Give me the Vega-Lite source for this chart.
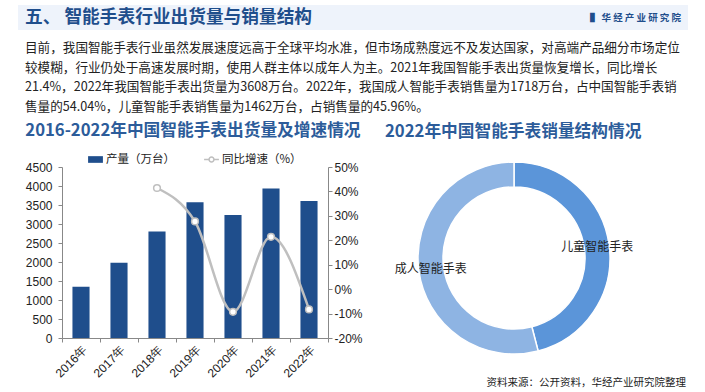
{
  "$schema": "https://vega.github.io/schema/vega-lite/v6.json",
  "background": "white",
  "padding": {"left": 18, "top": 5, "right": 17, "bottom": 4},
  "config": {"view": {"stroke": null}, "font": "Noto Sans CJK SC"},
  "title": {"text": "资料来源：公开资料，华经产业研究院整理", "orient": "bottom", "anchor": "end", "frame": "bounds", "fontSize": 10.5, "fontWeight": "normal", "color": "#222222", "offset": -1, "dx": -2, "font": "Noto Sans CJK SC"},
  "datasets": {
    "header": [{"title": "五、 智能手表行业出货量与销量结构", "logo": "▌  华  经  产  业  研  究  院"}],
    "ship": [
      {"year": "2016年", "output": 1350, "growth": null},
      {"year": "2017年", "output": 1980, "growth": null},
      {"year": "2018年", "output": 2800, "growth": 41.4},
      {"year": "2019年", "output": 3575, "growth": 27.7},
      {"year": "2020年", "output": 3240, "growth": -9.3},
      {"year": "2021年", "output": 3934, "growth": 21.4},
      {"year": "2022年", "output": 3608, "growth": -8.3}
    ],
    "sales": [
      {"category": "儿童智能手表", "share": 45.96},
      {"category": "成人智能手表", "share": 54.04}
    ]
  },
  "resolve": {"legend": {"fill": "independent", "stroke": "independent", "color": "independent"}},
  "vconcat": [
    {
      "width": 670,
      "height": 25,
      "view": {"fill": "#EEF3FB", "stroke": null},
      "data": {"name": "header"},
      "layer": [
        {
          "mark": {"type": "text", "align": "left", "baseline": "middle", "fontSize": 17.7, "fontWeight": "bold", "color": "#1F4E8C", "dx": 7},
          "encoding": {
            "text": {"field": "title"},
            "x": {"datum": 0, "type": "quantitative", "scale": {"domain": [0, 1], "nice": false, "zero": false}, "axis": null}
          }
        },
        {
          "mark": {"type": "text", "align": "right", "baseline": "middle", "fontSize": 9.5, "fontWeight": "bold", "color": "#1F4E8C", "dx": -7},
          "encoding": {
            "text": {"field": "logo"},
            "x": {"datum": 1, "type": "quantitative", "scale": {"domain": [0, 1], "nice": false, "zero": false}, "axis": null}
          }
        }
      ]
    },
    {
      "title": {
        "text": [
          "目前，我国智能手表行业虽然发展速度远高于全球平均水准，但市场成熟度远不及发达国家，对高端产品细分市场定位",
          "较模糊，行业仍处于高速发展时期，使用人群主体以成年人为主。2021年我国智能手表出货量恢复增长，同比增长",
          "21.4%，2022年我国智能手表出货量为3608万台。2022年，我国成人智能手表销售量为1718万台，占中国智能手表销",
          "售量的54.04%，儿童智能手表销售量为1462万台，占销售量的45.96%。"
        ],
        "anchor": "start", "frame": "bounds", "fontSize": 12.6, "fontWeight": "normal", "color": "#222222", "lineHeight": 19.5, "offset": 10, "dx": 7
      },
      "spacing": 6,
      "resolve": {"legend": {"fill": "independent", "stroke": "independent", "color": "independent"}},
      "hconcat": [
        {
          "width": 1,
          "height": 1,
          "data": {"values": []},
          "mark": "point"
        },
        {
          "width": 266,
          "height": 171,
          "title": {"text": "2016-2022年中国智能手表出货量及增速情况", "anchor": "start", "frame": "bounds", "fontSize": 16.7, "fontWeight": "bold", "color": "#2C5C9A", "offset": 11},
          "data": {"name": "ship"},
          "encoding": {
            "x": {
              "field": "year", "type": "ordinal", "sort": null,
              "scale": {"paddingInner": 0, "paddingOuter": 0},
              "axis": {"title": null, "labelAngle": -45, "labelAlign": "right", "labelBaseline": "top", "tickBand": "extent", "domainColor": "#888888", "tickColor": "#888888", "tickSize": 4, "labelFontSize": 12, "labelFont": "Liberation Sans", "labelColor": "#222222", "labelPadding": 2}
            }
          },
          "layer": [
            {
              "mark": {"type": "bar", "width": {"band": 0.45}},
              "encoding": {
                "y": {"field": "output", "type": "quantitative", "scale": {"domain": [0, 4500], "nice": false},
                  "axis": {"title": null, "grid": false, "format": "d", "values": [0, 500, 1000, 1500, 2000, 2500, 3000, 3500, 4000, 4500], "domainColor": "#888888", "tickColor": "#888888", "tickSize": 4, "labelFontSize": 12, "labelFont": "Liberation Sans", "labelColor": "#222222", "labelPadding": 6}},
                "fill": {"datum": "产量（万台）", "scale": {"range": ["#1F4E8C"]},
                  "legend": {"title": null, "orient": "none", "legendX": 25, "legendY": -16, "symbolType": "M-1,-0.45H1V0.45H-1Z", "symbolSize": 220, "labelFontSize": 11.5, "labelColor": "#222222", "labelFont": "Noto Sans CJK SC", "labelOffset": 2}}
              }
            },
            {
              "encoding": {
                "y": {"field": "growth", "type": "quantitative", "scale": {"domain": [-20, 50], "nice": false, "zero": false},
                  "axis": {"orient": "right", "title": null, "grid": false, "values": [-20, -10, 0, 10, 20, 30, 40, 50], "labelExpr": "datum.value + '%'", "domainColor": "#888888", "tickColor": "#888888", "tickSize": 4, "labelFontSize": 12, "labelFont": "Liberation Sans", "labelColor": "#222222", "labelPadding": 2}},
                "stroke": {"datum": "同比增速（%）", "scale": {"range": ["#BFBFBF"]},
                  "legend": {"title": null, "orient": "none", "legendX": 141, "legendY": -16, "symbolType": "M-1,0H-0.33M0.33,0H1M0.33,0A0.33,0.33,0,1,1,-0.33,0A0.33,0.33,0,1,1,0.33,0", "symbolSize": 220, "symbolStrokeWidth": 1.5, "symbolFillColor": "white", "labelFontSize": 11.5, "labelColor": "#222222", "labelFont": "Noto Sans CJK SC", "labelOffset": 2}}
              },
              "layer": [
                {"mark": {"type": "line", "interpolate": "monotone", "strokeWidth": 2.5}},
                {"mark": {"type": "point", "fill": "white", "opacity": 1, "size": 45, "strokeWidth": 1.5}}
              ]
            }
          ],
          "resolve": {"scale": {"y": "independent"}}
        },
        {
          "width": 290,
          "height": 182,
          "title": {"text": "2022年中国智能手表销量结构情况", "anchor": "start", "frame": "bounds", "fontSize": 16.7, "fontWeight": "bold", "color": "#2C5C9A", "offset": 18, "dx": 16},
          "data": {"name": "sales"},
          "encoding": {
            "theta": {"field": "share", "type": "quantitative", "stack": true},
            "order": {"field": "category", "sort": "ascending"}
          },
          "layer": [
            {
              "mark": {"type": "arc", "innerRadius": 71, "outerRadius": 96, "stroke": "white", "strokeWidth": 1.5},
              "encoding": {
                "color": {"field": "category", "type": "nominal", "scale": {"domain": ["儿童智能手表", "成人智能手表"], "range": ["#5B95D9", "#8EB4E3"]}, "legend": null}
              }
            },
            {
              "mark": {"type": "text", "radius": 84, "fontSize": 12, "color": "#222222", "font": "Noto Sans CJK SC"},
              "encoding": {"text": {"field": "category"}}
            }
          ]
        }
      ]
    }
  ],
  "spacing": 12
}
